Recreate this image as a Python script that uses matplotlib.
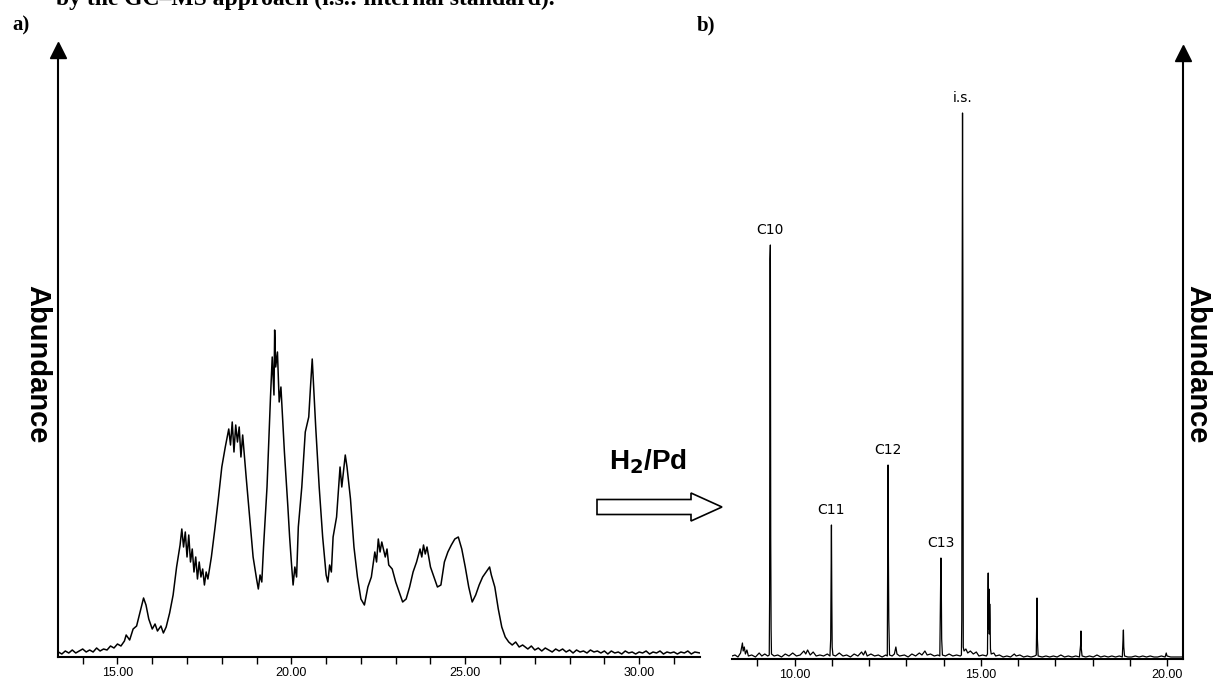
import numpy as np
import matplotlib.pyplot as plt
from matplotlib.ticker import MultipleLocator, FormatStrFormatter
from matplotlib.patches import FancyArrow

# figure size in pixels
W = 1213.0
H = 681.0

# a) crude sample, retention time (min) and abundance (arbitrary units)
time_a = [13.30, 13.40, 13.50, 13.60, 13.70, 13.80, 13.90, 14.00, 14.10, 14.20,
          14.30, 14.40, 14.50, 14.60, 14.70, 14.80, 14.90, 15.00, 15.10, 15.20,
          15.25, 15.35, 15.45, 15.55, 15.65, 15.75,
          15.82, 15.90, 16.00, 16.08, 16.15, 16.25, 16.32, 16.40, 16.50, 16.60,
          16.70, 16.80, 16.85, 16.90, 16.95, 17.00, 17.05, 17.10, 17.15, 17.20,
          17.25, 17.30, 17.35, 17.40, 17.45, 17.50, 17.55, 17.60, 17.70, 17.80,
          17.90, 18.00, 18.10, 18.20, 18.25, 18.30, 18.35, 18.40, 18.45, 18.50,
          18.55, 18.60, 18.70, 18.80, 18.90, 19.00, 19.05, 19.10, 19.15, 19.20,
          19.30, 19.35, 19.40, 19.45, 19.50, 19.52, 19.55, 19.60, 19.65, 19.70,
          19.80, 19.90, 19.95, 20.00, 20.05, 20.10, 20.15, 20.20, 20.30, 20.40,
          20.50, 20.55, 20.60, 20.65, 20.70, 20.80, 20.90, 21.00, 21.05, 21.10,
          21.15, 21.20, 21.30, 21.40, 21.45, 21.55, 21.60, 21.70, 21.80, 21.90,
          22.00, 22.10, 22.20, 22.30, 22.40, 22.45, 22.50, 22.55, 22.60, 22.70,
          22.75, 22.80, 22.90, 23.00, 23.10, 23.20, 23.30, 23.40, 23.50, 23.60,
          23.70, 23.75, 23.80, 23.85, 23.90, 24.00, 24.10, 24.20, 24.30, 24.40,
          24.50, 24.60, 24.70, 24.80, 24.90, 25.00, 25.10, 25.20, 25.30, 25.40,
          25.50, 25.60, 25.70, 25.75, 25.85, 25.95, 26.05, 26.15, 26.25, 26.35,
          26.45, 26.55, 26.65, 26.80, 26.90, 27.00, 27.10, 27.20, 27.30, 27.40,
          27.50, 27.60, 27.70, 27.80, 27.90, 28.00, 28.10, 28.20, 28.30, 28.40,
          28.50, 28.60, 28.70, 28.80, 28.90, 29.00, 29.10, 29.20, 29.30, 29.40,
          29.50, 29.60, 29.70, 29.80, 29.90, 30.00, 30.10, 30.20, 30.30, 30.40,
          30.50, 30.60, 30.70, 30.80, 30.90, 31.00, 31.10, 31.20, 31.30, 31.40,
          31.50, 31.60, 31.75]
abund_a = [5, 3, 6, 4, 7, 4, 6, 8, 5, 7,
           5, 9, 6, 8, 7, 11, 9, 13, 11, 16,
           22, 17, 28, 31, 45, 59,
           52, 38, 28, 33, 26, 31, 24, 30, 44, 62,
           90, 112, 128, 110, 125, 100, 122, 95, 108, 85,
           100, 78, 95, 80, 88, 72, 85, 78, 100, 128,
           158, 190, 210, 228, 212, 235, 205, 232, 215, 230,
           200, 222, 180, 140, 100, 78, 68, 82, 75, 110,
           170, 215, 260, 300, 262, 327, 290, 305, 255, 270,
           205, 150, 120, 95, 72, 90, 80, 130, 170, 225,
           240, 270, 298, 265, 230, 170, 120, 82, 75, 92,
           85, 120, 140, 190, 170, 202, 190, 158, 110, 80,
           58, 52, 70, 80, 105, 95, 118, 105, 115, 100,
           108, 92, 88, 75, 65, 55, 58, 70, 85, 95,
           108, 100, 112, 103, 110, 90, 80, 70, 72, 95,
           105, 112, 118, 120, 108, 90, 70, 55, 62, 72,
           80, 85, 90, 82, 70, 48, 30, 20, 15, 12,
           15, 10, 12, 8, 11, 7, 9, 6, 9, 7,
           5, 8, 6, 8, 5, 7, 4, 7, 5, 6,
           4, 7, 5, 6, 4, 6, 3, 6, 4, 5,
           3, 6, 4, 5, 3, 5, 4, 6, 3, 5,
           4, 6, 3, 5, 4, 5, 3, 5, 4, 6,
           3, 5, 4]

# b) after H2/Pd, retention time (min) and abundance (arbitrary units)
time_b = [8.32, 8.40, 8.48, 8.55, 8.58, 8.60, 8.62, 8.65, 8.68, 8.72,
          8.76, 8.85, 8.95, 9.05, 9.12, 9.20, 9.28,
          9.32, 9.33, 9.34, 9.35, 9.36, 9.37, 9.38,
          9.45, 9.55, 9.65, 9.75, 9.85, 9.95, 10.05, 10.15, 10.25, 10.30,
          10.35, 10.42, 10.50, 10.58, 10.68, 10.78, 10.88, 10.95,
          10.97, 10.98, 10.99, 11.00, 11.01, 11.03,
          11.10, 11.20, 11.30, 11.40, 11.50, 11.60, 11.70, 11.80, 11.85, 11.90,
          11.95, 12.05, 12.15, 12.25, 12.35, 12.45, 12.49,
          12.50, 12.51, 12.52, 12.53, 12.55,
          12.62, 12.68, 12.72, 12.75, 12.82, 12.95, 13.05, 13.15, 13.25, 13.35,
          13.42, 13.50, 13.56, 13.65, 13.75, 13.85, 13.90,
          13.92, 13.93, 13.94, 13.95, 13.97,
          14.05, 14.15, 14.25, 14.35, 14.45, 14.48,
          14.49, 14.50, 14.51, 14.52, 14.53, 14.55, 14.60, 14.65, 14.72, 14.80,
          14.88, 14.95, 15.05, 15.15, 15.18,
          15.19, 15.20, 15.21, 15.22, 15.23, 15.24, 15.25, 15.26, 15.28, 15.35,
          15.40, 15.50, 15.60, 15.70, 15.80, 15.90, 15.95, 16.05, 16.15, 16.25,
          16.35, 16.45, 16.49,
          16.50, 16.51, 16.52, 16.54,
          16.65, 16.75, 16.85, 16.95, 17.05, 17.15, 17.25, 17.35, 17.45, 17.55,
          17.65,
          17.68, 17.69, 17.70, 17.72,
          17.82, 17.92, 18.02, 18.12, 18.22, 18.32, 18.42, 18.52, 18.62, 18.72,
          18.80,
          18.82, 18.83, 18.84, 18.86,
          18.95, 19.05, 19.15, 19.25, 19.35, 19.45, 19.55, 19.65, 19.75, 19.85,
          19.95, 19.98, 20.00, 20.10, 20.20, 20.30, 20.43]
abund_b = [3, 4, 2, 6, 12, 16, 8, 12, 5, 9,
           3, 4, 2, 6, 3, 5, 3,
           4, 60, 400, 414, 120, 30, 5,
           3, 4, 2, 5, 3, 6, 3, 4, 8, 5,
           9, 4, 7, 3, 4, 3, 5, 3,
           20, 72, 134, 60, 12, 4,
           3, 6, 3, 4, 2, 5, 3, 7, 4, 8,
           3, 5, 3, 4, 2, 4, 3,
           101, 194, 101, 40, 4,
           3, 5, 12, 5, 3, 4, 2, 5, 3, 6,
           4, 8, 4, 5, 3, 4, 3,
           64, 101, 72, 20, 4,
           3, 5, 3, 4, 3, 4,
           40, 361, 546, 361, 12, 8, 10, 6, 8, 5,
           7, 3, 4, 3, 5,
           57, 86, 30, 70, 25, 55, 39, 10, 5, 6,
           3, 4, 2, 3, 2, 5, 3, 4, 2, 3,
           2, 3, 4,
           37, 61, 20, 3,
           2, 3, 2, 3, 2, 4, 2, 3, 2, 3,
           2,
           14, 28, 10, 3,
           2, 3, 2, 4, 2, 3, 2, 3, 2, 3,
           2,
           19, 29, 12, 3,
           2, 2, 3, 2, 3, 2, 3, 2, 2, 3,
           2, 6, 3, 2, 2, 2, 2]

peak_names = ['C10', 'C11', 'C12', 'C13', 'i.s.']
peak_times = [9.35, 10.99, 12.51, 13.93, 14.51]
peak_tops = [414, 134, 194, 101, 546]

SANS = ['Liberation Sans', 'DejaVu Sans']
SERIF = ['Liberation Serif', 'DejaVu Serif']


def px_box(x0, y_top, x1, y_bot):
    # pixel box (from top left) to figure fractions
    return [x0 / W, 1 - y_bot / H, (x1 - x0) / W, (y_bot - y_top) / H]


def style_axis(ax, side, major, xmin, xmax, ytop):
    ax.set_xlim(xmin, xmax)
    ax.set_ylim(0, ytop)
    for s in ['top', 'left', 'right']:
        ax.spines[s].set_visible(False)
    ax.spines[side].set_visible(True)
    ax.spines[side].set_linewidth(1.5)
    ax.spines['bottom'].set_linewidth(1.5)
    ax.set_yticks([])
    ax.xaxis.set_major_locator(MultipleLocator(major))
    ax.xaxis.set_minor_locator(MultipleLocator(1))
    ax.xaxis.set_major_formatter(FormatStrFormatter('%.2f'))
    ax.tick_params(axis='x', which='both', direction='out', length=5, width=1, pad=2)
    ax.tick_params(axis='x', labelsize=9)
    for lab in ax.get_xticklabels():
        lab.set_family(SANS)
    # arrow head on the abundance axis
    xpos = 0 if side == 'left' else 1
    ax.plot(xpos, 1, marker='^', color='k', ms=12, transform=ax.transAxes, clip_on=False)


fig = plt.figure(figsize=(W / 100, H / 100), dpi=100)

ax1 = fig.add_axes(px_box(58, 50, 700, 657))
ax1.plot(time_a, abund_a, color='k', lw=1.1)
style_axis(ax1, 'left', 5, 13.29, 31.75, 607)

ax2 = fig.add_axes(px_box(732, 53, 1183, 659))
ax2.plot(time_b, abund_b, color='k', lw=0.9)
style_axis(ax2, 'right', 5, 8.32, 20.43, 606)

for name, t, top in zip(peak_names, peak_times, peak_tops):
    ax2.annotate(name, xy=(t, top), xytext=(0, 6), textcoords='offset points',
                 ha='center', va='bottom', fontsize=10, family='DejaVu Sans')

# labels around the panels
fig.text(37 / W, 1 - 364 / H, 'Abundance', rotation=-90, ha='center', va='center',
         fontsize=21, fontweight='bold', family=SANS)
fig.text(1197 / W, 1 - 364 / H, 'Abundance', rotation=-90, ha='center', va='center',
         fontsize=21, fontweight='bold', family=SANS)
fig.text(12 / W, 1 - 25 / H, 'a)', ha='left', va='center', fontsize=15,
         fontweight='bold', family=SERIF)
fig.text(697 / W, 1 - 25 / H, 'b)', ha='left', va='center', fontsize=15,
         fontweight='bold', family=SERIF)
# caption line cut by the top edge, as in the source page
fig.text(56 / W, 1 - 5 / H, 'by the GC\u2013MS approach (i.s.: internal standard).',
         ha='left', va='baseline', fontsize=17, fontweight='bold', family=SERIF)

# H2/Pd reaction arrow
fig.text(648 / W, 1 - 462 / H, r'H$_\mathbf{2}$/Pd', ha='center', va='center',
         fontsize=20, fontweight='bold', family=SANS)
fig.patches.append(FancyArrow(597 / W, 1 - 507 / H, (722 - 597) / W, 0,
                              width=15 / H, head_width=28 / H, head_length=31 / W,
                              length_includes_head=True, facecolor='white',
                              edgecolor='k', lw=1.2, transform=fig.transFigure))

fig.savefig('out.png', dpi=100)
